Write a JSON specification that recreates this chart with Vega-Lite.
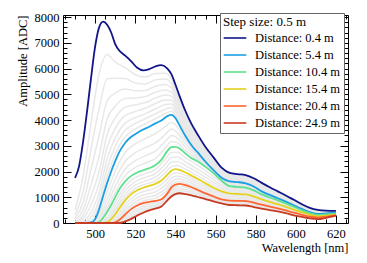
{
"$schema": "https://vega.github.io/schema/vega-lite/v6.json",
"width": 285, "height": 208,
"autosize": {"type": "none"},
"padding": {"left": 63, "top": 15, "right": 19, "bottom": 40},
"config": {
 "font": "Liberation Serif",
 "view": {"stroke": "#000", "strokeWidth": 1},
 "axis": {"domain": false, "grid": false, "labelFont": "Liberation Serif", "titleFont": "Liberation Serif", "labelFontSize": 12.5, "titleFontSize": 12.5, "titleFontWeight": "normal", "labelColor": "#000", "titleColor": "#000", "tickColor": "#000", "tickWidth": 1, "format": "d"},
 "legend": {"orient": "none", "legendX": 157, "legendY": -2, "strokeColor": "#666", "fillColor": "#fff", "padding": 3, "titleFont": "Liberation Serif", "titleFontSize": 13, "titleFontWeight": "normal", "labelFont": "Liberation Serif", "labelFontSize": 12.5, "labelColor": "#000", "titleColor": "#000", "symbolType": "M-1.6,0H1.6", "symbolSize": 200, "symbolStrokeWidth": 1.6, "symbolOffset": 4, "labelOffset": 12, "rowPadding": 2, "titlePadding": 1}
},
"datasets": {
"gray": [
{"d":0.9,"w":490,"a":500},{"d":0.9,"w":494,"a":1800},{"d":0.9,"w":498,"a":3900},{"d":0.9,"w":502,"a":5800},{"d":0.9,"w":506,"a":6550},{"d":0.9,"w":510,"a":6250},{"d":0.9,"w":515,"a":6040},{"d":0.9,"w":520,"a":5760},{"d":0.9,"w":525,"a":5670},{"d":0.9,"w":530,"a":5810},{"d":0.9,"w":535,"a":5820},{"d":0.9,"w":538,"a":5600},{"d":0.9,"w":541,"a":5030},{"d":0.9,"w":545,"a":4240},{"d":0.9,"w":550,"a":3500},{"d":0.9,"w":555,"a":2890},{"d":0.9,"w":560,"a":2400},{"d":0.9,"w":565,"a":2010},{"d":0.9,"w":570,"a":1880},{"d":0.9,"w":575,"a":1825},{"d":0.9,"w":580,"a":1665},{"d":0.9,"w":590,"a":1240},{"d":0.9,"w":600,"a":840},{"d":0.9,"w":610,"a":500},{"d":0.9,"w":620,"a":460},
{"d":1.4,"w":490,"a":300},{"d":1.4,"w":494,"a":1200},{"d":1.4,"w":498,"a":2900},{"d":1.4,"w":502,"a":4450},{"d":1.4,"w":506,"a":5600},{"d":1.4,"w":510,"a":5620},{"d":1.4,"w":515,"a":5610},{"d":1.4,"w":520,"a":5440},{"d":1.4,"w":525,"a":5400},{"d":1.4,"w":530,"a":5560},{"d":1.4,"w":535,"a":5590},{"d":1.4,"w":538,"a":5420},{"d":1.4,"w":541,"a":4900},{"d":1.4,"w":545,"a":4140},{"d":1.4,"w":550,"a":3420},{"d":1.4,"w":555,"a":2830},{"d":1.4,"w":560,"a":2350},{"d":1.4,"w":565,"a":1970},{"d":1.4,"w":570,"a":1850},{"d":1.4,"w":575,"a":1790},{"d":1.4,"w":580,"a":1630},{"d":1.4,"w":590,"a":1210},{"d":1.4,"w":600,"a":815},{"d":1.4,"w":610,"a":485},{"d":1.4,"w":620,"a":450},
{"d":1.9,"w":490,"a":180},{"d":1.9,"w":494,"a":800},{"d":1.9,"w":498,"a":2100},{"d":1.9,"w":502,"a":3400},{"d":1.9,"w":506,"a":4750},{"d":1.9,"w":510,"a":5050},{"d":1.9,"w":515,"a":5210},{"d":1.9,"w":520,"a":5140},{"d":1.9,"w":525,"a":5150},{"d":1.9,"w":530,"a":5310},{"d":1.9,"w":535,"a":5380},{"d":1.9,"w":538,"a":5250},{"d":1.9,"w":541,"a":4770},{"d":1.9,"w":545,"a":4030},{"d":1.9,"w":550,"a":3340},{"d":1.9,"w":555,"a":2770},{"d":1.9,"w":560,"a":2300},{"d":1.9,"w":565,"a":1930},{"d":1.9,"w":570,"a":1810},{"d":1.9,"w":575,"a":1760},{"d":1.9,"w":580,"a":1590},{"d":1.9,"w":590,"a":1180},{"d":1.9,"w":600,"a":795},{"d":1.9,"w":610,"a":465},{"d":1.9,"w":620,"a":445},
{"d":2.4,"w":490,"a":100},{"d":2.4,"w":494,"a":500},{"d":2.4,"w":498,"a":1500},{"d":2.4,"w":502,"a":2600},{"d":2.4,"w":506,"a":4050},{"d":2.4,"w":510,"a":4540},{"d":2.4,"w":515,"a":4840},{"d":2.4,"w":520,"a":4860},{"d":2.4,"w":525,"a":4910},{"d":2.4,"w":530,"a":5080},{"d":2.4,"w":535,"a":5170},{"d":2.4,"w":538,"a":5090},{"d":2.4,"w":541,"a":4640},{"d":2.4,"w":545,"a":3930},{"d":2.4,"w":550,"a":3260},{"d":2.4,"w":555,"a":2710},{"d":2.4,"w":560,"a":2250},{"d":2.4,"w":565,"a":1890},{"d":2.4,"w":570,"a":1780},{"d":2.4,"w":575,"a":1725},{"d":2.4,"w":580,"a":1560},{"d":2.4,"w":590,"a":1150},{"d":2.4,"w":600,"a":775},{"d":2.4,"w":610,"a":450},{"d":2.4,"w":620,"a":435},
{"d":2.9,"w":490,"a":50},{"d":2.9,"w":494,"a":300},{"d":2.9,"w":498,"a":1050},{"d":2.9,"w":502,"a":2000},{"d":2.9,"w":506,"a":3450},{"d":2.9,"w":510,"a":4080},{"d":2.9,"w":515,"a":4500},{"d":2.9,"w":520,"a":4590},{"d":2.9,"w":525,"a":4680},{"d":2.9,"w":530,"a":4850},{"d":2.9,"w":535,"a":4970},{"d":2.9,"w":538,"a":4930},{"d":2.9,"w":541,"a":4520},{"d":2.9,"w":545,"a":3830},{"d":2.9,"w":550,"a":3190},{"d":2.9,"w":555,"a":2650},{"d":2.9,"w":560,"a":2200},{"d":2.9,"w":565,"a":1850},{"d":2.9,"w":570,"a":1750},{"d":2.9,"w":575,"a":1695},{"d":2.9,"w":580,"a":1525},{"d":2.9,"w":590,"a":1120},{"d":2.9,"w":600,"a":755},{"d":2.9,"w":610,"a":435},{"d":2.9,"w":620,"a":430},
{"d":3.4,"w":490,"a":20},{"d":3.4,"w":494,"a":170},{"d":3.4,"w":498,"a":700},{"d":3.4,"w":502,"a":1550},{"d":3.4,"w":506,"a":2950},{"d":3.4,"w":510,"a":3670},{"d":3.4,"w":515,"a":4180},{"d":3.4,"w":520,"a":4330},{"d":3.4,"w":525,"a":4460},{"d":3.4,"w":530,"a":4640},{"d":3.4,"w":535,"a":4780},{"d":3.4,"w":538,"a":4770},{"d":3.4,"w":541,"a":4400},{"d":3.4,"w":545,"a":3740},{"d":3.4,"w":550,"a":3110},{"d":3.4,"w":555,"a":2590},{"d":3.4,"w":560,"a":2160},{"d":3.4,"w":565,"a":1820},{"d":3.4,"w":570,"a":1720},{"d":3.4,"w":575,"a":1660},{"d":3.4,"w":580,"a":1490},{"d":3.4,"w":590,"a":1090},{"d":3.4,"w":600,"a":735},{"d":3.4,"w":610,"a":420},{"d":3.4,"w":620,"a":420},
{"d":3.9,"w":490,"a":0},{"d":3.9,"w":494,"a":80},{"d":3.9,"w":498,"a":420},{"d":3.9,"w":502,"a":1180},{"d":3.9,"w":506,"a":2500},{"d":3.9,"w":510,"a":3300},{"d":3.9,"w":515,"a":3880},{"d":3.9,"w":520,"a":4090},{"d":3.9,"w":525,"a":4250},{"d":3.9,"w":530,"a":4430},{"d":3.9,"w":535,"a":4600},{"d":3.9,"w":538,"a":4620},{"d":3.9,"w":541,"a":4280},{"d":3.9,"w":545,"a":3650},{"d":3.9,"w":550,"a":3040},{"d":3.9,"w":555,"a":2540},{"d":3.9,"w":560,"a":2110},{"d":3.9,"w":565,"a":1780},{"d":3.9,"w":570,"a":1690},{"d":3.9,"w":575,"a":1630},{"d":3.9,"w":580,"a":1460},{"d":3.9,"w":590,"a":1065},{"d":3.9,"w":600,"a":715},{"d":3.9,"w":610,"a":400},{"d":3.9,"w":620,"a":415},
{"d":4.4,"w":490,"a":0},{"d":4.4,"w":494,"a":30},{"d":4.4,"w":498,"a":220},{"d":4.4,"w":502,"a":900},{"d":4.4,"w":506,"a":2130},{"d":4.4,"w":510,"a":2970},{"d":4.4,"w":515,"a":3600},{"d":4.4,"w":520,"a":3870},{"d":4.4,"w":525,"a":4050},{"d":4.4,"w":530,"a":4240},{"d":4.4,"w":535,"a":4420},{"d":4.4,"w":538,"a":4480},{"d":4.4,"w":541,"a":4170},{"d":4.4,"w":545,"a":3550},{"d":4.4,"w":550,"a":2970},{"d":4.4,"w":555,"a":2480},{"d":4.4,"w":560,"a":2070},{"d":4.4,"w":565,"a":1750},{"d":4.4,"w":570,"a":1660},{"d":4.4,"w":575,"a":1600},{"d":4.4,"w":580,"a":1430},{"d":4.4,"w":590,"a":1040},{"d":4.4,"w":600,"a":695},{"d":4.4,"w":610,"a":385},{"d":4.4,"w":620,"a":410},
{"d":4.9,"w":490,"a":0},{"d":4.9,"w":494,"a":0},{"d":4.9,"w":498,"a":80},{"d":4.9,"w":502,"a":700},{"d":4.9,"w":506,"a":1820},{"d":4.9,"w":510,"a":2670},{"d":4.9,"w":515,"a":3350},{"d":4.9,"w":520,"a":3650},{"d":4.9,"w":525,"a":3850},{"d":4.9,"w":530,"a":4050},{"d":4.9,"w":535,"a":4250},{"d":4.9,"w":538,"a":4340},{"d":4.9,"w":541,"a":4060},{"d":4.9,"w":545,"a":3465},{"d":4.9,"w":550,"a":2900},{"d":4.9,"w":555,"a":2430},{"d":4.9,"w":560,"a":2020},{"d":4.9,"w":565,"a":1710},{"d":4.9,"w":570,"a":1630},{"d":4.9,"w":575,"a":1570},{"d":4.9,"w":580,"a":1400},{"d":4.9,"w":590,"a":1015},{"d":4.9,"w":600,"a":680},{"d":4.9,"w":610,"a":375},{"d":4.9,"w":620,"a":405},
{"d":6.4,"w":490,"a":0},{"d":6.4,"w":494,"a":0},{"d":6.4,"w":498,"a":0},{"d":6.4,"w":502,"a":330},{"d":6.4,"w":506,"a":1200},{"d":6.4,"w":510,"a":2010},{"d":6.4,"w":515,"a":2740},{"d":6.4,"w":520,"a":3070},{"d":6.4,"w":525,"a":3280},{"d":6.4,"w":530,"a":3470},{"d":6.4,"w":535,"a":3750},{"d":6.4,"w":538,"a":3910},{"d":6.4,"w":541,"a":3730},{"d":6.4,"w":545,"a":3230},{"d":6.4,"w":550,"a":2760},{"d":6.4,"w":555,"a":2340},{"d":6.4,"w":560,"a":1955},{"d":6.4,"w":565,"a":1650},{"d":6.4,"w":570,"a":1560},{"d":6.4,"w":575,"a":1505},{"d":6.4,"w":580,"a":1340},{"d":6.4,"w":590,"a":975},{"d":6.4,"w":600,"a":650},{"d":6.4,"w":610,"a":350},{"d":6.4,"w":620,"a":390},
{"d":7.4,"w":490,"a":0},{"d":7.4,"w":494,"a":0},{"d":7.4,"w":498,"a":0},{"d":7.4,"w":502,"a":200},{"d":7.4,"w":506,"a":930},{"d":7.4,"w":510,"a":1690},{"d":7.4,"w":515,"a":2400},{"d":7.4,"w":520,"a":2730},{"d":7.4,"w":525,"a":2930},{"d":7.4,"w":530,"a":3110},{"d":7.4,"w":535,"a":3440},{"d":7.4,"w":538,"a":3650},{"d":7.4,"w":541,"a":3510},{"d":7.4,"w":545,"a":3090},{"d":7.4,"w":550,"a":2680},{"d":7.4,"w":555,"a":2300},{"d":7.4,"w":560,"a":1930},{"d":7.4,"w":565,"a":1620},{"d":7.4,"w":570,"a":1520},{"d":7.4,"w":575,"a":1470},{"d":7.4,"w":580,"a":1315},{"d":7.4,"w":590,"a":960},{"d":7.4,"w":600,"a":635},{"d":7.4,"w":610,"a":340},{"d":7.4,"w":620,"a":380},
{"d":8.4,"w":490,"a":0},{"d":8.4,"w":494,"a":0},{"d":8.4,"w":498,"a":0},{"d":8.4,"w":502,"a":120},{"d":8.4,"w":506,"a":720},{"d":8.4,"w":510,"a":1420},{"d":8.4,"w":515,"a":2100},{"d":8.4,"w":520,"a":2420},{"d":8.4,"w":525,"a":2610},{"d":8.4,"w":530,"a":2790},{"d":8.4,"w":535,"a":3170},{"d":8.4,"w":538,"a":3400},{"d":8.4,"w":541,"a":3310},{"d":8.4,"w":545,"a":2950},{"d":8.4,"w":550,"a":2600},{"d":8.4,"w":555,"a":2260},{"d":8.4,"w":560,"a":1910},{"d":8.4,"w":565,"a":1595},{"d":8.4,"w":570,"a":1480},{"d":8.4,"w":575,"a":1435},{"d":8.4,"w":580,"a":1290},{"d":8.4,"w":590,"a":940},{"d":8.4,"w":600,"a":625},{"d":8.4,"w":610,"a":335},{"d":8.4,"w":620,"a":375},
{"d":9.4,"w":490,"a":0},{"d":9.4,"w":494,"a":0},{"d":9.4,"w":498,"a":0},{"d":9.4,"w":502,"a":70},{"d":9.4,"w":506,"a":555},{"d":9.4,"w":510,"a":1190},{"d":9.4,"w":515,"a":1850},{"d":9.4,"w":520,"a":2160},{"d":9.4,"w":525,"a":2330},{"d":9.4,"w":530,"a":2500},{"d":9.4,"w":535,"a":2910},{"d":9.4,"w":538,"a":3170},{"d":9.4,"w":541,"a":3120},{"d":9.4,"w":545,"a":2820},{"d":9.4,"w":550,"a":2520},{"d":9.4,"w":555,"a":2220},{"d":9.4,"w":560,"a":1885},{"d":9.4,"w":565,"a":1565},{"d":9.4,"w":570,"a":1445},{"d":9.4,"w":575,"a":1400},{"d":9.4,"w":580,"a":1265},{"d":9.4,"w":590,"a":925},{"d":9.4,"w":600,"a":610},{"d":9.4,"w":610,"a":325},{"d":9.4,"w":620,"a":365},
{"d":11.4,"w":490,"a":0},{"d":11.4,"w":494,"a":0},{"d":11.4,"w":498,"a":0},{"d":11.4,"w":502,"a":20},{"d":11.4,"w":506,"a":230},{"d":11.4,"w":510,"a":800},{"d":11.4,"w":515,"a":1430},{"d":11.4,"w":520,"a":1760},{"d":11.4,"w":525,"a":1920},{"d":11.4,"w":530,"a":2070},{"d":11.4,"w":535,"a":2480},{"d":11.4,"w":538,"a":2740},{"d":11.4,"w":541,"a":2745},{"d":11.4,"w":545,"a":2530},{"d":11.4,"w":550,"a":2295},{"d":11.4,"w":555,"a":2035},{"d":11.4,"w":560,"a":1740},{"d":11.4,"w":565,"a":1465},{"d":11.4,"w":570,"a":1350},{"d":11.4,"w":575,"a":1315},{"d":11.4,"w":580,"a":1195},{"d":11.4,"w":590,"a":875},{"d":11.4,"w":600,"a":575},{"d":11.4,"w":610,"a":310},{"d":11.4,"w":620,"a":355},
{"d":12.4,"w":490,"a":0},{"d":12.4,"w":494,"a":0},{"d":12.4,"w":498,"a":0},{"d":12.4,"w":502,"a":10},{"d":12.4,"w":506,"a":120},{"d":12.4,"w":510,"a":640},{"d":12.4,"w":515,"a":1270},{"d":12.4,"w":520,"a":1610},{"d":12.4,"w":525,"a":1770},{"d":12.4,"w":530,"a":1920},{"d":12.4,"w":535,"a":2290},{"d":12.4,"w":538,"a":2540},{"d":12.4,"w":541,"a":2560},{"d":12.4,"w":545,"a":2375},{"d":12.4,"w":550,"a":2145},{"d":12.4,"w":555,"a":1900},{"d":12.4,"w":560,"a":1630},{"d":12.4,"w":565,"a":1390},{"d":12.4,"w":570,"a":1295},{"d":12.4,"w":575,"a":1260},{"d":12.4,"w":580,"a":1145},{"d":12.4,"w":590,"a":845},{"d":12.4,"w":600,"a":555},{"d":12.4,"w":610,"a":300},{"d":12.4,"w":620,"a":350},
{"d":13.4,"w":490,"a":0},{"d":13.4,"w":494,"a":0},{"d":13.4,"w":498,"a":0},{"d":13.4,"w":502,"a":0},{"d":13.4,"w":506,"a":60},{"d":13.4,"w":510,"a":515},{"d":13.4,"w":515,"a":1120},{"d":13.4,"w":520,"a":1470},{"d":13.4,"w":525,"a":1630},{"d":13.4,"w":530,"a":1780},{"d":13.4,"w":535,"a":2110},{"d":13.4,"w":538,"a":2360},{"d":13.4,"w":541,"a":2390},{"d":13.4,"w":545,"a":2230},{"d":13.4,"w":550,"a":2010},{"d":13.4,"w":555,"a":1770},{"d":13.4,"w":560,"a":1530},{"d":13.4,"w":565,"a":1320},{"d":13.4,"w":570,"a":1240},{"d":13.4,"w":575,"a":1205},{"d":13.4,"w":580,"a":1100},{"d":13.4,"w":590,"a":810},{"d":13.4,"w":600,"a":530},{"d":13.4,"w":610,"a":290},{"d":13.4,"w":620,"a":340},
{"d":14.4,"w":490,"a":0},{"d":14.4,"w":494,"a":0},{"d":14.4,"w":498,"a":0},{"d":14.4,"w":502,"a":0},{"d":14.4,"w":506,"a":35},{"d":14.4,"w":510,"a":410},{"d":14.4,"w":515,"a":990},{"d":14.4,"w":520,"a":1345},{"d":14.4,"w":525,"a":1510},{"d":14.4,"w":530,"a":1640},{"d":14.4,"w":535,"a":1950},{"d":14.4,"w":538,"a":2190},{"d":14.4,"w":541,"a":2230},{"d":14.4,"w":545,"a":2090},{"d":14.4,"w":550,"a":1880},{"d":14.4,"w":555,"a":1650},{"d":14.4,"w":560,"a":1430},{"d":14.4,"w":565,"a":1255},{"d":14.4,"w":570,"a":1190},{"d":14.4,"w":575,"a":1155},{"d":14.4,"w":580,"a":1055},{"d":14.4,"w":590,"a":780},{"d":14.4,"w":600,"a":510},{"d":14.4,"w":610,"a":280},{"d":14.4,"w":620,"a":335},
{"d":16.4,"w":490,"a":0},{"d":16.4,"w":494,"a":0},{"d":16.4,"w":498,"a":0},{"d":16.4,"w":502,"a":0},{"d":16.4,"w":506,"a":10},{"d":16.4,"w":510,"a":200},{"d":16.4,"w":515,"a":720},{"d":16.4,"w":520,"a":1075},{"d":16.4,"w":525,"a":1240},{"d":16.4,"w":530,"a":1355},{"d":16.4,"w":535,"a":1625},{"d":16.4,"w":538,"a":1880},{"d":16.4,"w":541,"a":1950},{"d":16.4,"w":545,"a":1850},{"d":16.4,"w":550,"a":1660},{"d":16.4,"w":555,"a":1450},{"d":16.4,"w":560,"a":1265},{"d":16.4,"w":565,"a":1125},{"d":16.4,"w":570,"a":1080},{"d":16.4,"w":575,"a":1050},{"d":16.4,"w":580,"a":960},{"d":16.4,"w":590,"a":715},{"d":16.4,"w":600,"a":465},{"d":16.4,"w":610,"a":260},{"d":16.4,"w":620,"a":325},
{"d":17.4,"w":490,"a":0},{"d":17.4,"w":494,"a":0},{"d":17.4,"w":498,"a":0},{"d":17.4,"w":502,"a":0},{"d":17.4,"w":506,"a":0},{"d":17.4,"w":510,"a":120},{"d":17.4,"w":515,"a":595},{"d":17.4,"w":520,"a":940},{"d":17.4,"w":525,"a":1110},{"d":17.4,"w":530,"a":1210},{"d":17.4,"w":535,"a":1470},{"d":17.4,"w":538,"a":1740},{"d":17.4,"w":541,"a":1830},{"d":17.4,"w":545,"a":1745},{"d":17.4,"w":550,"a":1570},{"d":17.4,"w":555,"a":1370},{"d":17.4,"w":560,"a":1195},{"d":17.4,"w":565,"a":1060},{"d":17.4,"w":570,"a":1020},{"d":17.4,"w":575,"a":995},{"d":17.4,"w":580,"a":910},{"d":17.4,"w":590,"a":680},{"d":17.4,"w":600,"a":440},{"d":17.4,"w":610,"a":250},{"d":17.4,"w":620,"a":320},
{"d":18.4,"w":490,"a":0},{"d":18.4,"w":494,"a":0},{"d":18.4,"w":498,"a":0},{"d":18.4,"w":502,"a":0},{"d":18.4,"w":506,"a":0},{"d":18.4,"w":510,"a":75},{"d":18.4,"w":515,"a":490},{"d":18.4,"w":520,"a":825},{"d":18.4,"w":525,"a":990},{"d":18.4,"w":530,"a":1080},{"d":18.4,"w":535,"a":1325},{"d":18.4,"w":538,"a":1610},{"d":18.4,"w":541,"a":1715},{"d":18.4,"w":545,"a":1650},{"d":18.4,"w":550,"a":1480},{"d":18.4,"w":555,"a":1290},{"d":18.4,"w":560,"a":1130},{"d":18.4,"w":565,"a":1005},{"d":18.4,"w":570,"a":965},{"d":18.4,"w":575,"a":945},{"d":18.4,"w":580,"a":865},{"d":18.4,"w":590,"a":650},{"d":18.4,"w":600,"a":420},{"d":18.4,"w":610,"a":240},{"d":18.4,"w":620,"a":315},
{"d":19.4,"w":490,"a":0},{"d":19.4,"w":494,"a":0},{"d":19.4,"w":498,"a":0},{"d":19.4,"w":502,"a":0},{"d":19.4,"w":506,"a":0},{"d":19.4,"w":510,"a":45},{"d":19.4,"w":515,"a":400},{"d":19.4,"w":520,"a":720},{"d":19.4,"w":525,"a":885},{"d":19.4,"w":530,"a":965},{"d":19.4,"w":535,"a":1200},{"d":19.4,"w":538,"a":1490},{"d":19.4,"w":541,"a":1610},{"d":19.4,"w":545,"a":1555},{"d":19.4,"w":550,"a":1400},{"d":19.4,"w":555,"a":1220},{"d":19.4,"w":560,"a":1070},{"d":19.4,"w":565,"a":950},{"d":19.4,"w":570,"a":915},{"d":19.4,"w":575,"a":895},{"d":19.4,"w":580,"a":820},{"d":19.4,"w":590,"a":620},{"d":19.4,"w":600,"a":400},{"d":19.4,"w":610,"a":230},{"d":19.4,"w":620,"a":310},
{"d":21.4,"w":490,"a":0},{"d":21.4,"w":494,"a":0},{"d":21.4,"w":498,"a":0},{"d":21.4,"w":502,"a":0},{"d":21.4,"w":506,"a":0},{"d":21.4,"w":510,"a":15},{"d":21.4,"w":515,"a":240},{"d":21.4,"w":520,"a":520},{"d":21.4,"w":525,"a":700},{"d":21.4,"w":530,"a":780},{"d":21.4,"w":535,"a":1010},{"d":21.4,"w":538,"a":1290},{"d":21.4,"w":541,"a":1420},{"d":21.4,"w":545,"a":1385},{"d":21.4,"w":550,"a":1250},{"d":21.4,"w":555,"a":1095},{"d":21.4,"w":560,"a":960},{"d":21.4,"w":565,"a":855},{"d":21.4,"w":570,"a":820},{"d":21.4,"w":575,"a":805},{"d":21.4,"w":580,"a":735},{"d":21.4,"w":590,"a":555},{"d":21.4,"w":600,"a":355},{"d":21.4,"w":610,"a":200},{"d":21.4,"w":620,"a":305},
{"d":22.4,"w":490,"a":0},{"d":22.4,"w":494,"a":0},{"d":22.4,"w":498,"a":0},{"d":22.4,"w":502,"a":0},{"d":22.4,"w":506,"a":0},{"d":22.4,"w":510,"a":5},{"d":22.4,"w":515,"a":170},{"d":22.4,"w":520,"a":430},{"d":22.4,"w":525,"a":620},{"d":22.4,"w":530,"a":710},{"d":22.4,"w":535,"a":945},{"d":22.4,"w":538,"a":1210},{"d":22.4,"w":541,"a":1330},{"d":22.4,"w":545,"a":1305},{"d":22.4,"w":550,"a":1180},{"d":22.4,"w":555,"a":1045},{"d":22.4,"w":560,"a":915},{"d":22.4,"w":565,"a":815},{"d":22.4,"w":570,"a":780},{"d":22.4,"w":575,"a":765},{"d":22.4,"w":580,"a":695},{"d":22.4,"w":590,"a":525},{"d":22.4,"w":600,"a":330},{"d":22.4,"w":610,"a":185},{"d":22.4,"w":620,"a":300},
{"d":23.4,"w":490,"a":0},{"d":23.4,"w":494,"a":0},{"d":23.4,"w":498,"a":0},{"d":23.4,"w":502,"a":0},{"d":23.4,"w":506,"a":0},{"d":23.4,"w":510,"a":0},{"d":23.4,"w":515,"a":120},{"d":23.4,"w":520,"a":350},{"d":23.4,"w":525,"a":545},{"d":23.4,"w":530,"a":650},{"d":23.4,"w":535,"a":885},{"d":23.4,"w":538,"a":1135},{"d":23.4,"w":541,"a":1255},{"d":23.4,"w":545,"a":1230},{"d":23.4,"w":550,"a":1120},{"d":23.4,"w":555,"a":995},{"d":23.4,"w":560,"a":875},{"d":23.4,"w":565,"a":780},{"d":23.4,"w":570,"a":745},{"d":23.4,"w":575,"a":730},{"d":23.4,"w":580,"a":660},{"d":23.4,"w":590,"a":495},{"d":23.4,"w":600,"a":310},{"d":23.4,"w":610,"a":170},{"d":23.4,"w":620,"a":295},
{"d":24.4,"w":490,"a":0},{"d":24.4,"w":494,"a":0},{"d":24.4,"w":498,"a":0},{"d":24.4,"w":502,"a":0},{"d":24.4,"w":506,"a":0},{"d":24.4,"w":510,"a":0},{"d":24.4,"w":515,"a":85},{"d":24.4,"w":520,"a":290},{"d":24.4,"w":525,"a":480},{"d":24.4,"w":530,"a":595},{"d":24.4,"w":535,"a":830},{"d":24.4,"w":538,"a":1065},{"d":24.4,"w":541,"a":1180},{"d":24.4,"w":545,"a":1160},{"d":24.4,"w":550,"a":1060},{"d":24.4,"w":555,"a":950},{"d":24.4,"w":560,"a":835},{"d":24.4,"w":565,"a":745},{"d":24.4,"w":570,"a":710},{"d":24.4,"w":575,"a":695},{"d":24.4,"w":580,"a":625},{"d":24.4,"w":590,"a":470},{"d":24.4,"w":600,"a":290},{"d":24.4,"w":610,"a":160},{"d":24.4,"w":620,"a":290}
],
"col": [
{"d":"0.4","w":490,"a":1750},{"d":"0.4","w":492,"a":2200},{"d":"0.4","w":494,"a":3150},{"d":"0.4","w":496,"a":4350},{"d":"0.4","w":498,"a":5650},{"d":"0.4","w":500,"a":6850},{"d":"0.4","w":502,"a":7600},{"d":"0.4","w":504,"a":7820},{"d":"0.4","w":506,"a":7700},{"d":"0.4","w":508,"a":7400},{"d":"0.4","w":510,"a":6950},{"d":"0.4","w":512,"a":6700},{"d":"0.4","w":515,"a":6500},{"d":"0.4","w":518,"a":6280},{"d":"0.4","w":521,"a":6030},{"d":"0.4","w":524,"a":5930},{"d":"0.4","w":527,"a":5980},{"d":"0.4","w":530,"a":6080},{"d":"0.4","w":533,"a":6130},{"d":"0.4","w":536,"a":6000},{"d":"0.4","w":538,"a":5780},{"d":"0.4","w":540,"a":5380},{"d":"0.4","w":542,"a":4950},{"d":"0.4","w":545,"a":4350},{"d":"0.4","w":548,"a":3850},{"d":"0.4","w":551,"a":3450},{"d":"0.4","w":555,"a":2950},{"d":"0.4","w":559,"a":2550},{"d":"0.4","w":563,"a":2150},{"d":"0.4","w":567,"a":1950},{"d":"0.4","w":571,"a":1900},{"d":"0.4","w":575,"a":1860},{"d":"0.4","w":579,"a":1740},{"d":"0.4","w":583,"a":1560},{"d":"0.4","w":587,"a":1390},{"d":"0.4","w":591,"a":1230},{"d":"0.4","w":595,"a":1070},{"d":"0.4","w":599,"a":900},{"d":"0.4","w":603,"a":730},{"d":"0.4","w":607,"a":590},{"d":"0.4","w":611,"a":510},{"d":"0.4","w":615,"a":480},{"d":"0.4","w":620,"a":470},
{"d":"5.4","w":490,"a":0},{"d":"5.4","w":492,"a":0},{"d":"5.4","w":494,"a":0},{"d":"5.4","w":496,"a":0},{"d":"5.4","w":498,"a":20},{"d":"5.4","w":500,"a":150},{"d":"5.4","w":502,"a":530},{"d":"5.4","w":504,"a":1050},{"d":"5.4","w":506,"a":1550},{"d":"5.4","w":508,"a":2000},{"d":"5.4","w":510,"a":2400},{"d":"5.4","w":512,"a":2750},{"d":"5.4","w":515,"a":3120},{"d":"5.4","w":518,"a":3350},{"d":"5.4","w":521,"a":3500},{"d":"5.4","w":524,"a":3630},{"d":"5.4","w":527,"a":3740},{"d":"5.4","w":530,"a":3870},{"d":"5.4","w":533,"a":3980},{"d":"5.4","w":536,"a":4150},{"d":"5.4","w":538,"a":4200},{"d":"5.4","w":540,"a":4080},{"d":"5.4","w":542,"a":3800},{"d":"5.4","w":545,"a":3380},{"d":"5.4","w":548,"a":3020},{"d":"5.4","w":551,"a":2750},{"d":"5.4","w":555,"a":2380},{"d":"5.4","w":559,"a":2050},{"d":"5.4","w":563,"a":1760},{"d":"5.4","w":567,"a":1620},{"d":"5.4","w":571,"a":1590},{"d":"5.4","w":575,"a":1540},{"d":"5.4","w":579,"a":1420},{"d":"5.4","w":583,"a":1230},{"d":"5.4","w":587,"a":1090},{"d":"5.4","w":591,"a":960},{"d":"5.4","w":595,"a":830},{"d":"5.4","w":599,"a":690},{"d":"5.4","w":603,"a":550},{"d":"5.4","w":607,"a":420},{"d":"5.4","w":611,"a":350},{"d":"5.4","w":615,"a":370},{"d":"5.4","w":620,"a":400},
{"d":"10.4","w":490,"a":0},{"d":"10.4","w":492,"a":0},{"d":"10.4","w":494,"a":0},{"d":"10.4","w":496,"a":0},{"d":"10.4","w":498,"a":0},{"d":"10.4","w":500,"a":0},{"d":"10.4","w":502,"a":40},{"d":"10.4","w":504,"a":200},{"d":"10.4","w":506,"a":430},{"d":"10.4","w":508,"a":700},{"d":"10.4","w":510,"a":1000},{"d":"10.4","w":512,"a":1300},{"d":"10.4","w":515,"a":1620},{"d":"10.4","w":518,"a":1830},{"d":"10.4","w":521,"a":1960},{"d":"10.4","w":524,"a":2050},{"d":"10.4","w":527,"a":2130},{"d":"10.4","w":530,"a":2240},{"d":"10.4","w":533,"a":2450},{"d":"10.4","w":536,"a":2800},{"d":"10.4","w":538,"a":2950},{"d":"10.4","w":540,"a":2960},{"d":"10.4","w":542,"a":2900},{"d":"10.4","w":545,"a":2700},{"d":"10.4","w":548,"a":2520},{"d":"10.4","w":551,"a":2400},{"d":"10.4","w":555,"a":2180},{"d":"10.4","w":559,"a":1930},{"d":"10.4","w":563,"a":1650},{"d":"10.4","w":567,"a":1430},{"d":"10.4","w":571,"a":1400},{"d":"10.4","w":575,"a":1370},{"d":"10.4","w":579,"a":1270},{"d":"10.4","w":583,"a":1110},{"d":"10.4","w":587,"a":990},{"d":"10.4","w":591,"a":880},{"d":"10.4","w":595,"a":760},{"d":"10.4","w":599,"a":630},{"d":"10.4","w":603,"a":490},{"d":"10.4","w":607,"a":380},{"d":"10.4","w":611,"a":310},{"d":"10.4","w":615,"a":330},{"d":"10.4","w":620,"a":360},
{"d":"15.4","w":490,"a":0},{"d":"15.4","w":492,"a":0},{"d":"15.4","w":494,"a":0},{"d":"15.4","w":496,"a":0},{"d":"15.4","w":498,"a":0},{"d":"15.4","w":500,"a":0},{"d":"15.4","w":502,"a":0},{"d":"15.4","w":504,"a":0},{"d":"15.4","w":506,"a":20},{"d":"15.4","w":508,"a":150},{"d":"15.4","w":510,"a":330},{"d":"15.4","w":512,"a":560},{"d":"15.4","w":515,"a":880},{"d":"15.4","w":518,"a":1120},{"d":"15.4","w":521,"a":1270},{"d":"15.4","w":524,"a":1370},{"d":"15.4","w":527,"a":1440},{"d":"15.4","w":530,"a":1520},{"d":"15.4","w":533,"a":1650},{"d":"15.4","w":536,"a":1880},{"d":"15.4","w":538,"a":2030},{"d":"15.4","w":540,"a":2090},{"d":"15.4","w":542,"a":2060},{"d":"15.4","w":545,"a":1960},{"d":"15.4","w":548,"a":1840},{"d":"15.4","w":551,"a":1720},{"d":"15.4","w":555,"a":1540},{"d":"15.4","w":559,"a":1370},{"d":"15.4","w":563,"a":1230},{"d":"15.4","w":567,"a":1150},{"d":"15.4","w":571,"a":1130},{"d":"15.4","w":575,"a":1110},{"d":"15.4","w":579,"a":1030},{"d":"15.4","w":583,"a":920},{"d":"15.4","w":587,"a":820},{"d":"15.4","w":591,"a":730},{"d":"15.4","w":595,"a":630},{"d":"15.4","w":599,"a":520},{"d":"15.4","w":603,"a":410},{"d":"15.4","w":607,"a":320},{"d":"15.4","w":611,"a":260},{"d":"15.4","w":615,"a":290},{"d":"15.4","w":620,"a":330},
{"d":"20.4","w":490,"a":0},{"d":"20.4","w":492,"a":0},{"d":"20.4","w":494,"a":0},{"d":"20.4","w":496,"a":0},{"d":"20.4","w":498,"a":0},{"d":"20.4","w":500,"a":0},{"d":"20.4","w":502,"a":0},{"d":"20.4","w":504,"a":0},{"d":"20.4","w":506,"a":0},{"d":"20.4","w":508,"a":0},{"d":"20.4","w":510,"a":30},{"d":"20.4","w":512,"a":120},{"d":"20.4","w":515,"a":330},{"d":"20.4","w":518,"a":540},{"d":"20.4","w":521,"a":680},{"d":"20.4","w":524,"a":770},{"d":"20.4","w":527,"a":820},{"d":"20.4","w":530,"a":860},{"d":"20.4","w":533,"a":920},{"d":"20.4","w":536,"a":1150},{"d":"20.4","w":538,"a":1380},{"d":"20.4","w":540,"a":1490},{"d":"20.4","w":542,"a":1520},{"d":"20.4","w":545,"a":1470},{"d":"20.4","w":548,"a":1390},{"d":"20.4","w":551,"a":1290},{"d":"20.4","w":555,"a":1150},{"d":"20.4","w":559,"a":1030},{"d":"20.4","w":563,"a":920},{"d":"20.4","w":567,"a":870},{"d":"20.4","w":571,"a":860},{"d":"20.4","w":575,"a":850},{"d":"20.4","w":579,"a":790},{"d":"20.4","w":583,"a":710},{"d":"20.4","w":587,"a":640},{"d":"20.4","w":591,"a":570},{"d":"20.4","w":595,"a":490},{"d":"20.4","w":599,"a":400},{"d":"20.4","w":603,"a":320},{"d":"20.4","w":607,"a":250},{"d":"20.4","w":611,"a":210},{"d":"20.4","w":615,"a":250},{"d":"20.4","w":620,"a":310},
{"d":"24.9","w":490,"a":0},{"d":"24.9","w":492,"a":0},{"d":"24.9","w":494,"a":0},{"d":"24.9","w":496,"a":0},{"d":"24.9","w":498,"a":0},{"d":"24.9","w":500,"a":0},{"d":"24.9","w":502,"a":0},{"d":"24.9","w":504,"a":0},{"d":"24.9","w":506,"a":0},{"d":"24.9","w":508,"a":0},{"d":"24.9","w":510,"a":0},{"d":"24.9","w":512,"a":0},{"d":"24.9","w":515,"a":60},{"d":"24.9","w":518,"a":160},{"d":"24.9","w":521,"a":290},{"d":"24.9","w":524,"a":400},{"d":"24.9","w":527,"a":490},{"d":"24.9","w":530,"a":560},{"d":"24.9","w":533,"a":640},{"d":"24.9","w":536,"a":880},{"d":"24.9","w":538,"a":1030},{"d":"24.9","w":540,"a":1120},{"d":"24.9","w":542,"a":1155},{"d":"24.9","w":545,"a":1120},{"d":"24.9","w":548,"a":1070},{"d":"24.9","w":551,"a":1010},{"d":"24.9","w":555,"a":930},{"d":"24.9","w":559,"a":840},{"d":"24.9","w":563,"a":760},{"d":"24.9","w":567,"a":700},{"d":"24.9","w":571,"a":690},{"d":"24.9","w":575,"a":680},{"d":"24.9","w":579,"a":620},{"d":"24.9","w":583,"a":560},{"d":"24.9","w":587,"a":500},{"d":"24.9","w":591,"a":450},{"d":"24.9","w":595,"a":380},{"d":"24.9","w":599,"a":300},{"d":"24.9","w":603,"a":240},{"d":"24.9","w":607,"a":180},{"d":"24.9","w":611,"a":150},{"d":"24.9","w":615,"a":200},{"d":"24.9","w":620,"a":285}
]
},
"resolve": {"axis": {"x": "independent", "y": "independent"}},
"layer": [
 {
  "data": {"name": "col"},
  "mark": {"type": "line", "strokeOpacity": 0},
  "encoding": {
   "x": {"field": "w", "type": "quantitative", "scale": {"domain": [484, 626], "nice": false, "zero": false},
         "axis": {"orient": "bottom", "values": [485,490,495,505,510,515,525,530,535,545,550,555,565,570,575,585,590,595,605,610,615,625], "tickSize": -4, "labels": false, "title": null}},
   "y": {"field": "a", "type": "quantitative", "scale": {"domain": [0, 8080], "nice": false},
         "axis": {"orient": "left", "values": [200,400,600,800,1200,1400,1600,1800,2200,2400,2600,2800,3200,3400,3600,3800,4200,4400,4600,4800,5200,5400,5600,5800,6200,6400,6600,6800,7200,7400,7600,7800], "tickSize": -4, "labels": false, "title": null}},
   "detail": {"field": "d", "type": "nominal"}
  }
 },
 {
  "data": {"name": "col"},
  "mark": {"type": "line", "strokeOpacity": 0},
  "encoding": {
   "x": {"field": "w", "type": "quantitative", "scale": {"domain": [484, 626], "nice": false, "zero": false},
         "axis": {"orient": "top", "values": [485,490,495,505,510,515,525,530,535,545,550,555,565,570,575,585,590,595,605,610,615,625], "tickSize": -4, "labels": false, "title": null}},
   "y": {"field": "a", "type": "quantitative", "scale": {"domain": [0, 8080], "nice": false},
         "axis": {"orient": "right", "values": [200,400,600,800,1200,1400,1600,1800,2200,2400,2600,2800,3200,3400,3600,3800,4200,4400,4600,4800,5200,5400,5600,5800,6200,6400,6600,6800,7200,7400,7600,7800], "tickSize": -4, "labels": false, "title": null}},
   "detail": {"field": "d", "type": "nominal"}
  }
 },
 {
  "data": {"name": "gray"},
  "mark": {"type": "line", "color": "#e8e8e8", "strokeWidth": 1.5, "interpolate": "monotone"},
  "encoding": {
   "x": {"field": "w", "type": "quantitative", "scale": {"domain": [484, 626], "nice": false, "zero": false},
         "axis": {"orient": "bottom", "values": [500,520,540,560,580,600,620], "tickSize": -8, "labelPadding": 12, "title": "Wavelength [nm]", "titleAnchor": "end", "titlePadding": 2}},
   "y": {"field": "a", "type": "quantitative", "scale": {"domain": [0, 8080], "nice": false},
         "axis": {"orient": "left", "values": [0,1000,2000,3000,4000,5000,6000,7000,8000], "tickSize": -8, "labelPadding": 12, "title": "Amplitude [ADC]", "titleAnchor": "end", "titlePadding": 5}},
   "detail": {"field": "d", "type": "nominal"}
  }
 },
 {
  "data": {"name": "col"},
  "mark": {"type": "line", "strokeWidth": 1.8, "interpolate": "monotone"},
  "encoding": {
   "x": {"field": "w", "type": "quantitative", "scale": {"domain": [484, 626], "nice": false, "zero": false},
         "axis": {"orient": "top", "values": [500,520,540,560,580,600,620], "tickSize": -8, "labels": false, "title": null}},
   "y": {"field": "a", "type": "quantitative", "scale": {"domain": [0, 8080], "nice": false},
         "axis": {"orient": "right", "values": [0,1000,2000,3000,4000,5000,6000,7000,8000], "tickSize": -8, "labels": false, "title": null}},
   "color": {"field": "d", "type": "nominal", "sort": null,
     "scale": {"domain": ["0.4","5.4","10.4","15.4","20.4","24.9"], "range": ["#10158a","#1b9fe3","#5fe08f","#e3d21f","#ff6633","#c73a23"]},
     "legend": {"title": "Step size: 0.5 m", "labelExpr": "'Distance: ' + datum.label + ' m'"}}
  }
 }
]
}
